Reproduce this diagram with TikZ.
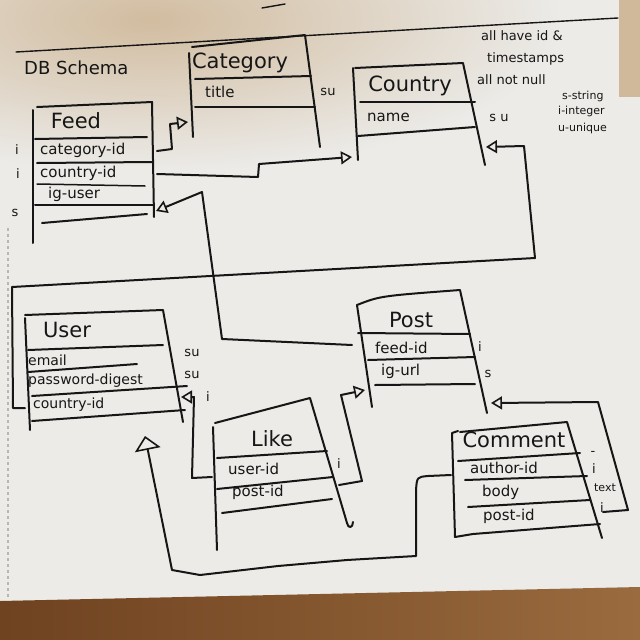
\documentclass[tikz,border=0pt]{standalone}
\usepackage{fontspec}
\setmainfont{DejaVu Sans}
\usetikzlibrary{arrows.meta,fadings}
\definecolor{paper}{HTML}{ECEBE8}
\definecolor{ink}{HTML}{161616}
\definecolor{wood}{HTML}{6F4220}
\definecolor{woodb}{HTML}{9A6B3E}
\definecolor{tanc}{HTML}{C9AD88}
\definecolor{perf}{HTML}{B9B7B2}
\tikzfading[name=cornerfade, inner color=transparent!0, outer color=transparent!100]
\begin{document}
\begin{tikzpicture}[x=1pt,y=-1pt,
  ink/.style={draw=ink,line width=2pt,line cap=round,line join=round},
  thinink/.style={draw=ink,line width=1.5pt,line cap=round,line join=round},
  ttl/.style={font=\fontsize{21}{21}\selectfont,text=ink,inner sep=0pt},
  fld/.style={font=\fontsize{15}{15}\selectfont,text=ink,inner sep=0pt,anchor=west},
  tag/.style={font=\fontsize{13}{13}\selectfont,text=ink,inner sep=0pt},
  note/.style={font=\fontsize{13}{13}\selectfont,text=ink,inner sep=0pt,anchor=west},
  fk/.style={ink,-{Triangle[open,length=11pt,width=13pt,line width=1.6pt]}},
  fkbig/.style={ink,-{Triangle[open,length=14pt,width=26pt,line width=1.6pt]}},
]
\useasboundingbox (0,0) rectangle (640,640);
% ---- paper and surroundings ----
\fill[paper] (0,0) rectangle (640,640);
\fill[tanc, path fading=cornerfade, opacity=0.75] (-260,-130) rectangle (560,170);
\fill[tanc!80!paper] (619,0) rectangle (640,97);
\shade[left color=wood, right color=woodb] (0,601) -- (640,587) -- (640,640) -- (0,640) -- cycle;
\draw[perf, line width=1.2pt, dash pattern=on 3pt off 3pt] (8,228) -- (8,598);
\draw[ink, line width=1.4pt] (16,52) -- (618,18);
\draw[ink, line width=1.4pt] (262,8) -- (285,4);

% ---- notes ----
\node[font=\fontsize{18}{18}\selectfont,text=ink,inner sep=0pt,anchor=west] (title) at (24,68) {DB Schema};
\node[note] (n1) at (481,36) {all have id \&};
\node[note] (n2) at (487,59) {timestamps};
\node[note] (n3) at (477,80) {all not null};
\node[note,font=\fontsize{11}{11}\selectfont] (n4) at (562,96) {s-string};
\node[note,font=\fontsize{11}{11}\selectfont] (n5) at (558,111) {i-integer};
\node[note,font=\fontsize{11}{11}\selectfont] (n6) at (558,128) {u-unique};

% ---- Feed ----
\draw[ink] (33,110) -- (33,243);
\draw[ink] (37,107) -- (152,102) -- (154,217);
\draw[ink] (35,139) -- (147,137);
\draw[ink] (37,163) -- (152,162);
\draw[thinink] (37,184) -- (145,186);
\draw[ink] (35,205) -- (153,205);
\draw[ink] (42,223) -- (147,214);
\node[ttl] (feedT) at (76,121) {Feed};
\node[fld] (feedF1) at (40,150) {category-id};
\node[fld] (feedF2) at (40,173) {country-id};
\node[fld] (feedF3) at (48,194) {ig-user};
\node[tag] (feedL1) at (17,150) {i};
\node[tag] (feedL2) at (18,174) {i};
\node[tag] (feedL3) at (15,213) {s};

% ---- Category ----
\draw[ink] (189,53) -- (193,137);
\draw[ink] (192,47) -- (305,35) -- (320,147);
\draw[ink] (195,79) -- (311,76);
\draw[ink] (195,107) -- (315,107);
\node[ttl] (catT) at (240,63) {Category};
\node[fld] (catF1) at (205,92) {title};
\node[tag] (catL1) at (328,92) {su};

% ---- Country ----
\draw[ink] (353,68) -- (358,160);
\draw[ink] (355,68) -- (463,63) -- (485,165);
\draw[ink] (360,102) -- (475,102);
\draw[ink] (358,136) -- (475,127);
\node[ttl] (ctryT) at (410,86) {Country};
\node[fld] (ctryF1) at (367,117) {name};
\node[tag] (ctryL1) at (499,118) {s u};

% ---- User ----
\draw[ink] (25,318) -- (30,430);
\draw[ink] (25,315) -- (163,310) -- (183,422);
\draw[ink] (28,350) -- (163,345);
\draw[ink] (28,372) -- (137,364);
\draw[ink] (32,396) -- (187,386);
\draw[ink] (32,421) -- (185,410);
\node[ttl] (userT) at (67,330) {User};
\node[fld,font=\fontsize{14}{14}\selectfont] (userF1) at (28,360) {email};
\node[fld,font=\fontsize{14}{14}\selectfont] (userF2) at (28,381) {password-digest};
\node[fld,font=\fontsize{14}{14}\selectfont] (userF3) at (33,405) {country-id};
\node[tag] (userL1) at (192,353) {su};
\node[tag] (userL2) at (192,375) {su};
\node[tag] (userL3) at (208,397) {i};

% ---- Post ----
\draw[ink] (357,305) .. controls (380,296) .. (460,290) -- (487,413);
\draw[ink] (357,305) -- (372,407);
\draw[ink] (358,333) -- (470,334);
\draw[ink] (368,360) -- (475,357);
\draw[ink] (375,385) -- (475,384);
\node[ttl] (postT) at (411,320) {Post};
\node[fld] (postF1) at (375,348) {feed-id};
\node[fld] (postF2) at (381,371) {ig-url};
\node[tag] (postL1) at (480,347) {i};
\node[tag] (postL2) at (488,374) {s};

% ---- Like ----
\draw[ink] (215,423) -- (310,398) -- (347,523) .. controls (348,529) and (353,528) .. (353,522);
\draw[ink] (213,427) -- (217,550);
\draw[ink] (217,458) -- (327,451);
\draw[ink] (217,489) -- (333,477);
\draw[ink] (222,513) -- (332,499);
\node[ttl] (likeT) at (272,439) {Like};
\node[fld] (likeF1) at (228,469) {user-id};
\node[fld] (likeF2) at (232,492) {post-id};
\node[tag] (likeL1) at (339,464) {i};

% ---- Comment ----
\draw[ink] (458,431) -- (452,433) -- (455,537) -- (473,534) -- (600,524);
\draw[ink] (460,432) -- (567,422) -- (602,538);
\draw[ink] (458,461) -- (580,453);
\draw[ink] (465,480) -- (587,476);
\draw[ink] (468,507) -- (590,500);
\node[ttl] (comT) at (514,440) {Comment};
\node[fld] (comF1) at (470,468) {author-id};
\node[fld] (comF2) at (482,492) {body};
\node[fld] (comF3) at (483,516) {post-id};
\node[tag] (comL0) at (593,453) {-};
\node[tag] (comL1) at (594,469) {i};
\node[tag,font=\fontsize{11}{11}\selectfont] (comL2) at (605,488) {text};
\node[tag] (comL3) at (602,508) {i};

% ---- connector end points ----
\coordinate (feedCatOut) at (157,151);
\coordinate (catIn) at (188,122);
\coordinate (feedCtryOut) at (157,174);
\coordinate (ctryInL) at (352,157);
\coordinate (userCtryOut) at (25,408);
\coordinate (ctryInR) at (486,147);
\coordinate (postFeedOut) at (352,345);
\coordinate (feedIn) at (156,211);
\coordinate (likeUserOut) at (212,477);
\coordinate (userInR) at (181,397);
\coordinate (likePostOut) at (339,485);
\coordinate (postInL) at (365,390);
\coordinate (comPostOut) at (603,512);
\coordinate (postInR) at (491,403);
\coordinate (comAuthOut) at (451,475);
\coordinate (userInB) at (145,436);

% ---- connectors ----
\draw[fk] (feedCatOut) -- (172,149) -- (170,124) -- (catIn);
\draw[fk] (feedCtryOut) -- (258,177) -- (259,164) -- (ctryInL);
\draw[fk] (userCtryOut) -- (13,408) -- (12,287) -- (535,258) -- (524,146) -- (ctryInR);
\draw[fk] (postFeedOut) -- (222,339) -- (202,192) -- (feedIn);
\draw[fk] (likeUserOut) -- (192,478) -- (194,397) -- (userInR);
\draw[fk] (likePostOut) -- (362,481) -- (341,395) -- (postInL);
\draw[fk] (comPostOut) -- (628,510) -- (598,402) -- (postInR);
\draw[fkbig] (comAuthOut) -- (428,476) .. controls (417,477) .. (416,490) -- (416,556) -- (347,560) -- (278,566) -- (200,575) -- (172,570) -- (userInB);
\end{tikzpicture}
\end{document}
